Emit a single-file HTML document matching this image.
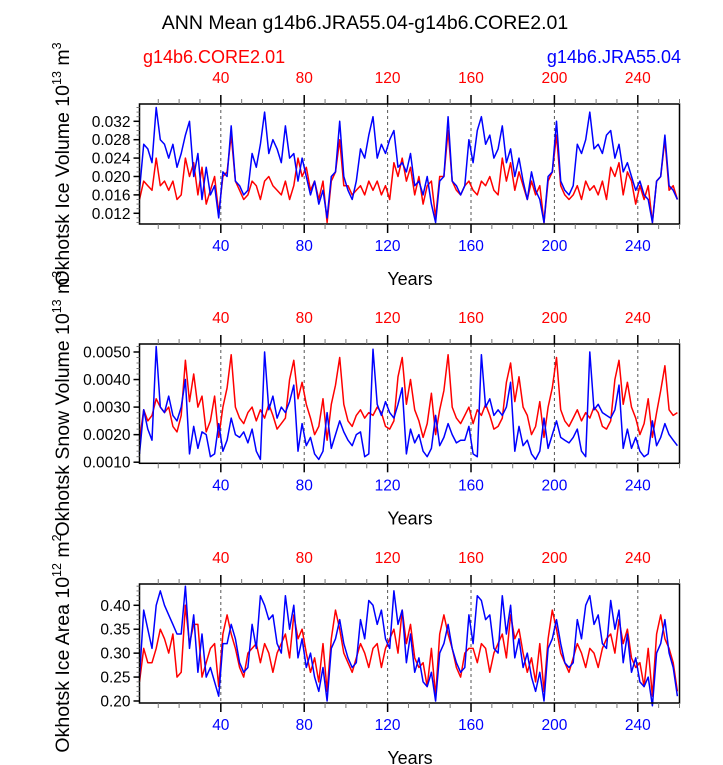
<!DOCTYPE html>
<html><head><meta charset="utf-8">
<style>
html,body{margin:0;padding:0;background:#fff;}
svg{display:block;font-family:"Liberation Sans",Arial,sans-serif;}
</style></head>
<body>
<svg id="chart" width="723" height="765" viewBox="0 0 723 765" xmlns="http://www.w3.org/2000/svg">
<text x="365" y="29" font-size="19.5" text-anchor="middle">ANN Mean g14b6.JRA55.04-g14b6.CORE2.01</text>
<text x="143" y="63" font-size="18" fill="#ff0000">g14b6.CORE2.01</text>
<text x="681" y="63" font-size="18" fill="#0000ff" text-anchor="end">g14b6.JRA55.04</text>
</svg>
<script>
// ---- data (2-year sampling, years 1..259) ----
const years = [];
for (let y = 1; y <= 259; y += 2) years.push(y);
const xTicks = [40, 80, 120, 160, 200, 240];

const iceVolJRA = [
.017,.027,.026,.023,.035,.028,.027,.024,.027,.022,.025,.029,.032,.020,.025,.015,.022,.016,.018,.011,.021,.020,.031,.019,.018,.016,
.017,.025,.022,.027,.034,.025,.028,.026,.023,.031,.024,.025,.019,.024,.020,.016,.019,.014,.017,.011,.020,.021,.032,.020,.017,.015,
.019,.026,.024,.029,.033,.024,.027,.025,.028,.030,.022,.023,.021,.025,.018,.019,.016,.020,.014,.010,.019,.020,.033,.019,.018,.016,
.018,.028,.023,.030,.033,.027,.029,.024,.026,.031,.023,.026,.020,.024,.019,.015,.021,.017,.015,.010,.020,.021,.032,.019,.017,.016,
.018,.027,.025,.028,.034,.026,.027,.025,.029,.030,.024,.027,.021,.023,.020,.017,.019,.016,.015,.010,.019,.020,.029,.018,.017,.015];
const iceVolCORE = [
.015,.019,.018,.017,.024,.018,.019,.017,.019,.015,.016,.024,.020,.023,.016,.022,.014,.017,.020,.012,.020,.021,.029,.019,.017,.015,
.016,.019,.018,.015,.019,.020,.018,.017,.016,.019,.015,.018,.024,.020,.022,.017,.019,.015,.019,.010,.019,.021,.028,.018,.018,.016,
.017,.018,.016,.019,.017,.019,.016,.018,.015,.023,.020,.024,.019,.022,.016,.020,.014,.018,.019,.011,.020,.020,.030,.019,.017,.016,
.018,.019,.017,.016,.019,.018,.020,.017,.016,.024,.019,.023,.017,.021,.018,.015,.019,.016,.018,.010,.019,.021,.029,.018,.016,.015,
.016,.018,.015,.019,.017,.018,.016,.019,.015,.022,.020,.023,.016,.021,.019,.014,.018,.015,.018,.010,.019,.020,.028,.017,.018,.015];
const snowJRA = [
.0013,.0029,.0022,.0018,.0052,.0030,.0028,.0034,.0027,.0025,.0030,.0040,.0013,.0023,.0015,.0021,.0020,.0012,.0013,.0024,.0014,.0018,.0026,.0020,.0019,.0021,
.0017,.0022,.0014,.0011,.0050,.0029,.0034,.0026,.0030,.0028,.0032,.0038,.0014,.0024,.0016,.0019,.0013,.0011,.0014,.0028,.0015,.0020,.0025,.0021,.0018,.0016,
.0020,.0021,.0012,.0013,.0051,.0031,.0027,.0032,.0028,.0026,.0031,.0037,.0013,.0022,.0017,.0020,.0014,.0012,.0015,.0027,.0016,.0019,.0024,.0020,.0017,.0018,
.0018,.0023,.0013,.0012,.0049,.0030,.0033,.0027,.0029,.0027,.0030,.0039,.0014,.0023,.0016,.0018,.0013,.0011,.0014,.0026,.0015,.0020,.0025,.0019,.0018,.0017,
.0019,.0022,.0014,.0012,.0050,.0029,.0031,.0028,.0027,.0026,.0029,.0038,.0015,.0022,.0015,.0019,.0014,.0012,.0013,.0025,.0016,.0019,.0024,.0020,.0018,.0016];
const snowCORE = [
.0018,.0029,.0025,.0027,.0033,.0030,.0028,.0030,.0023,.0021,.0027,.0047,.0032,.0042,.0030,.0034,.0021,.0025,.0034,.0019,.0030,.0037,.0049,.0030,.0026,.0024,
.0028,.0030,.0025,.0029,.0026,.0031,.0027,.0022,.0024,.0026,.0040,.0047,.0033,.0039,.0031,.0026,.0020,.0023,.0033,.0018,.0031,.0038,.0048,.0031,.0025,.0023,
.0027,.0029,.0026,.0028,.0027,.0030,.0028,.0023,.0022,.0025,.0041,.0048,.0031,.0040,.0029,.0025,.0019,.0024,.0035,.0020,.0029,.0036,.0049,.0030,.0026,.0024,
.0027,.0030,.0024,.0029,.0027,.0031,.0027,.0022,.0023,.0026,.0039,.0046,.0032,.0041,.0030,.0027,.0020,.0023,.0032,.0019,.0030,.0037,.0048,.0029,.0025,.0023,
.0026,.0029,.0025,.0028,.0026,.0030,.0028,.0023,.0022,.0025,.0040,.0047,.0031,.0039,.0030,.0026,.0020,.0024,.0033,.0019,.0028,.0036,.0045,.0029,.0027,.0028];
const areaJRA = [
.25,.39,.35,.31,.40,.43,.40,.38,.36,.34,.34,.44,.31,.38,.26,.34,.25,.27,.24,.21,.32,.32,.36,.33,.28,.26,
.27,.36,.31,.42,.40,.37,.38,.32,.30,.42,.35,.40,.29,.33,.27,.30,.25,.22,.27,.20,.31,.33,.37,.32,.29,.27,
.28,.37,.33,.41,.40,.36,.39,.33,.31,.43,.36,.39,.28,.34,.26,.29,.24,.23,.26,.20,.30,.32,.36,.31,.28,.26,
.27,.38,.32,.42,.41,.37,.38,.31,.30,.42,.34,.40,.29,.33,.27,.30,.25,.22,.26,.20,.31,.33,.37,.32,.28,.27,
.28,.37,.33,.40,.42,.36,.38,.32,.31,.41,.35,.39,.28,.34,.26,.29,.24,.23,.25,.19,.30,.32,.37,.30,.27,.21];
const areaCORE = [
.24,.31,.28,.28,.31,.35,.33,.30,.34,.25,.26,.40,.32,.36,.36,.25,.28,.31,.32,.23,.34,.38,.34,.31,.27,.25,
.30,.31,.32,.28,.32,.30,.26,.30,.32,.34,.29,.38,.33,.35,.30,.26,.29,.24,.32,.22,.33,.39,.35,.30,.28,.26,
.29,.32,.30,.27,.31,.32,.27,.31,.33,.35,.30,.39,.32,.36,.29,.27,.28,.23,.31,.21,.34,.38,.34,.31,.27,.25,
.30,.31,.31,.28,.32,.31,.26,.30,.32,.34,.29,.38,.33,.35,.30,.26,.29,.24,.32,.22,.33,.39,.35,.30,.28,.26,
.29,.32,.30,.27,.31,.30,.27,.31,.33,.34,.30,.37,.32,.35,.29,.27,.28,.23,.31,.21,.34,.38,.33,.31,.28,.22];

const volTicks = [0.012, 0.016, 0.020, 0.024, 0.028, 0.032];
const snowTicks = [0.0010, 0.0020, 0.0030, 0.0040, 0.0050];
const areaTicks = [0.20, 0.25, 0.30, 0.35, 0.40];

const NS = "http://www.w3.org/2000/svg";
const svg = document.getElementById("chart");
const X0 = 139.5, X1 = 679.5, XMIN = 1, XMAX = 260;
function xs(v){ return X0 + (v - XMIN) / (XMAX - XMIN) * (X1 - X0); }
function mk(tag, attrs, parent){
  const e = document.createElementNS(NS, tag);
  for (const k in attrs) e.setAttribute(k, attrs[k]);
  (parent || svg).appendChild(e);
  return e;
}

const panels = [
  {key:"ice-volume", top:104, bot:224, ymin:0.00967, ymax:0.03576, ticks:volTicks, dec:3, minor:0.001,
   label:"Okhotsk Ice Volume 10", sup1:"13", unit:" m", sup2:"3", blue:iceVolJRA, red:iceVolCORE},
  {key:"snow-volume", top:344, bot:463.3, ymin:0.00096, ymax:0.00529, ticks:snowTicks, dec:4, minor:0.0002,
   label:"Okhotsk Snow Volume 10", sup1:"13", unit:" m", sup2:"3", blue:snowJRA, red:snowCORE},
  {key:"ice-area", top:584, bot:703, ymin:0.1958, ymax:0.4445, ticks:areaTicks, dec:2, minor:0.01,
   label:"Okhotsk Ice Area 10", sup1:"12", unit:" m", sup2:"2", blue:areaJRA, red:areaCORE}
];

panels.forEach(p => {
  const g = mk("g", {});
  
  
  const ys = v => p.bot - (v - p.ymin) / (p.ymax - p.ymin) * (p.bot - p.top);

  xTicks.forEach(t => {
    const l = mk("line", {x1:xs(t), x2:xs(t), y1:p.top, y2:p.bot, stroke:"#555", "stroke-width":1, "stroke-dasharray":"3,3"}, g);
    
    
  });

  [[p.red, "#ff0000", "core"], [p.blue, "#0000ff", "jra"]].forEach(s => {
    const d = s[0].map((v, i) => (i ? "L" : "M") + xs(years[i]).toFixed(1) + "," + ys(v).toFixed(1)).join("");
    const path = mk("path", {d:d, fill:"none", stroke:s[1], "stroke-width":1.5, "stroke-linejoin":"round"}, g);
    
    
  });

  const fr = mk("rect", {x:X0, y:p.top, width:X1 - X0, height:p.bot - p.top, fill:"none", stroke:"#000", "stroke-width":1.5}, g);
  
  

  for (let t = 10; t <= 260; t += 10) {
    const major = t % 40 === 0;
    const len = major ? 9 : 5;
    mk("line", {x1:xs(t), x2:xs(t), y1:p.bot, y2:p.bot + len, stroke: major ? "#000" : "#777", "stroke-width":major?1.5:1}, g);
    mk("line", {x1:xs(t), x2:xs(t), y1:p.top, y2:p.top - len, stroke: major ? "#000" : "#777", "stroke-width":major?1.5:1}, g);
  }
  xTicks.forEach(t => {
    const b = mk("text", {x:xs(t), y:p.bot + 27, "font-size":15.5, fill:"#0000ff", "text-anchor":"middle"}, g);
    b.textContent = t;
    
    
    const tp = mk("text", {x:xs(t), y:p.top - 21, "font-size":15.5, fill:"#ff0000", "text-anchor":"middle"}, g);
    tp.textContent = t;
    
    
  });
  const xt = mk("text", {x:410, y:p.bot + 61, "font-size":18, "text-anchor":"middle"}, g);
  xt.textContent = "Years";
  
  

  for (let v = Math.ceil(p.ymin / p.minor) * p.minor; v <= p.ymax; v += p.minor) {
    mk("line", {x1:X0, x2:X0 - 3, y1:ys(v), y2:ys(v), stroke:"#777", "stroke-width":1}, g);
  }
  p.ticks.forEach(v => {
    mk("line", {x1:X0, x2:X0 - 6, y1:ys(v), y2:ys(v), stroke:"#000", "stroke-width":1.5}, g);
    const tl = mk("text", {x:X0 - 9, y:ys(v) + 5.5, "font-size":15.5, "text-anchor":"end"}, g);
    tl.textContent = v.toFixed(p.dec);
    
    
  });

  const cy = (p.top + p.bot) / 2;
  const yt = mk("text", {x:0, y:0, "font-size":19.5, "text-anchor":"middle", transform:"translate(69," + cy + ") rotate(-90)"}, g);
  
  
  const t1 = mk("tspan", {}, yt); t1.textContent = p.label;
  const t2 = mk("tspan", {dy:-8, "font-size":12.5}, yt); t2.textContent = p.sup1;
  const t3 = mk("tspan", {dy:8}, yt); t3.textContent = p.unit;
  const t4 = mk("tspan", {dy:-8, "font-size":12.5}, yt); t4.textContent = p.sup2;
});
</script>
</body></html>
